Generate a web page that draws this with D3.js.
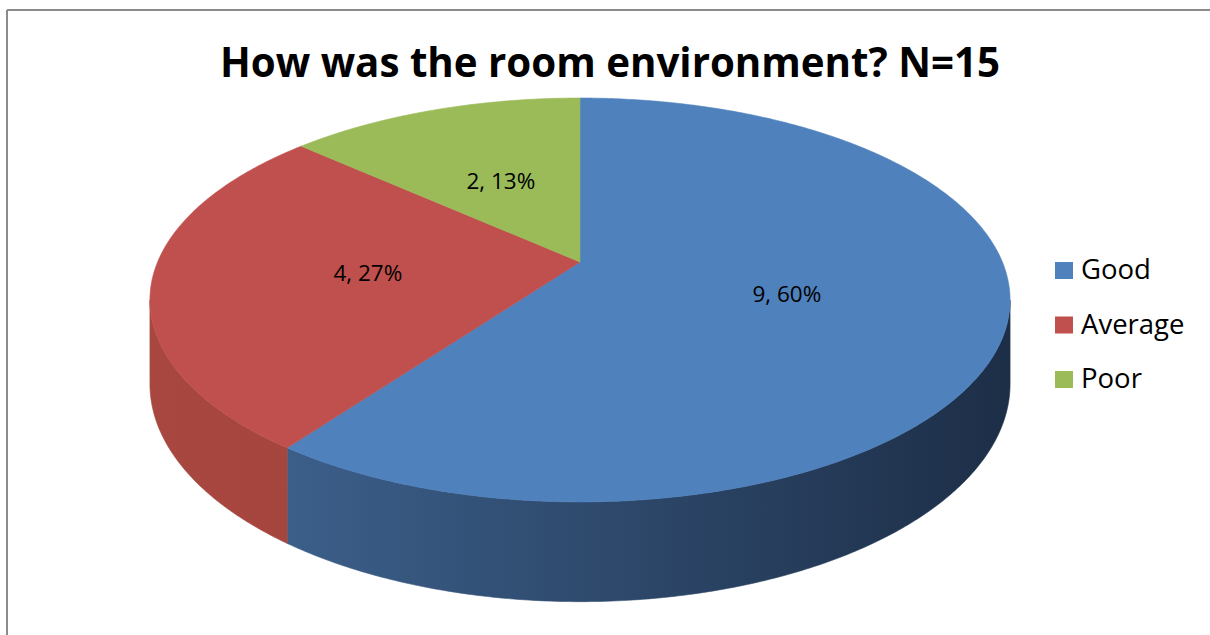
<!DOCTYPE html>
<html>
<head>
<meta charset="utf-8">
<script src="https://cdn.jsdelivr.net/npm/d3@7"></script>
<style>
  html, body { margin: 0; padding: 0; background: #ffffff; overflow: hidden; }
  svg { display: block; }
  text { font-family: "Open Sans", "Liberation Sans", sans-serif; fill: #000; }
</style>
</head>
<body>
<svg id="chart" width="1210" height="635"></svg>
<script>
// Survey responses
const categories = ["Good", "Average", "Poor"];
const counts = [9, 4, 2];
const percentLabels = ["60%", "27%", "13%"];
const titleText = "How was the room environment? N=15";

// Slice colours: top face, and side wall gradient (light end, dark end)
const topColors = ["#4f81bd", "#c0504d", "#9bbb59"];
const sideLight = ["#416896", "#a8473f", "#86a24b"];
const sideDark = ["#1d2e47", "#933c3a", "#6c8338"];

const svg = d3.select("#chart");

// Chart frame: top and left edges
svg.append("line")
  .attr("x1", 7).attr("y1", 10).attr("x2", 1210).attr("y2", 10)
  .attr("stroke", "#8c8c8c").attr("stroke-width", 2);
svg.append("line")
  .attr("x1", 7).attr("y1", 10).attr("x2", 7).attr("y2", 635)
  .attr("stroke", "#8c8c8c").attr("stroke-width", 2);

// Title
svg.append("text")
  .attr("x", 610).attr("y", 77)
  .attr("text-anchor", "middle")
  .attr("font-size", 42)
  .attr("font-weight", 700)
  .attr("textLength", 780)
  .attr("lengthAdjust", "spacingAndGlyphs")
  .text(titleText);

// Perspective projection of a flat disc seen from above and in front.
// theta: clockwise from the far point; r: fraction of radius; depth: 0 top, 1 bottom.
const cx = 580, cy = 262;
const A = 194.8, B = 422.4, k = 0.188, T = 81;
function proj(theta, r = 1, depth = 0) {
  const u = r * Math.sin(theta), v = r * Math.cos(theta);
  const den = 1 + k * v;
  return [cx + B * u / den, cy - A * v / den + depth * T / den];
}

const pie = d3.pie().sort(null).value(d => d);
const arcs = pie(counts);

const defs = svg.append("defs");
arcs.forEach((a, i) => {
  const g = defs.append("linearGradient")
    .attr("id", "side" + i)
    .attr("gradientUnits", "userSpaceOnUse")
    .attr("x1", 150).attr("y1", 0).attr("x2", 1010).attr("y2", 0);
  g.append("stop").attr("offset", 0).attr("stop-color", sideLight[i]);
  g.append("stop").attr("offset", 1).attr("stop-color", sideDark[i]);
});

const line = d3.line();
function arcPoints(a0, a1, depth) {
  const n = Math.max(2, Math.ceil((a1 - a0) / 0.01));
  const pts = [];
  for (let j = 0; j <= n; j++) pts.push(proj(a0 + (a1 - a0) * j / n, 1, depth));
  return pts;
}

// Outer side walls, only on the front half between the silhouette points
const silR = Math.acos(-k), silL = 2 * Math.PI - Math.acos(-k);
const sides = svg.append("g");
arcs.forEach((a, i) => {
  const s = Math.max(a.startAngle, silR), e = Math.min(a.endAngle, silL);
  if (e <= s) return;
  const pts = arcPoints(s, e, 0).concat(arcPoints(s, e, 1).reverse());
  sides.append("path")
    .attr("d", line(pts) + "Z")
    .attr("fill", `url(#side${i})`)
    .attr("stroke", `url(#side${i})`)
    .attr("stroke-width", 0.6);
});

// Top faces
const tops = svg.append("g");
arcs.forEach((a, i) => {
  const pts = [proj(0, 0, 0)].concat(arcPoints(a.startAngle, a.endAngle, 0));
  tops.append("path")
    .attr("d", line(pts) + "Z")
    .attr("fill", topColors[i])
    .attr("stroke", topColors[i])
    .attr("stroke-width", 0.6);
});

// Data labels: "count, percent"
arcs.forEach((a, i) => {
  const [x, y] = proj((a.startAngle + a.endAngle) / 2, 0.5, 0);
  svg.append("text")
    .attr("x", x).attr("y", y + 9)
    .attr("text-anchor", "middle")
    .attr("font-size", 22.5)
    .text(`${counts[i]}, ${percentLabels[i]}`);
});

// Legend
const legend = svg.append("g").attr("transform", "translate(1055,262)");
const rowY = d3.scalePoint().domain(categories).range([0, 109]);
categories.forEach((c, i) => {
  const row = legend.append("g").attr("transform", `translate(0,${rowY(c)})`);
  row.append("rect").attr("width", 18).attr("height", 17).attr("fill", topColors[i]);
  row.append("text").attr("x", 26).attr("y", 17).attr("font-size", 27.5).text(c);
});
</script>
</body>
</html>
